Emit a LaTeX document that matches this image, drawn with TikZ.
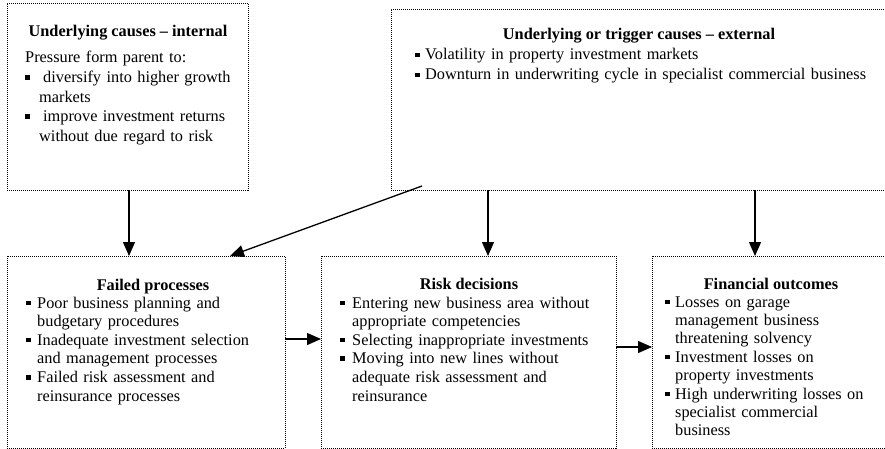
\documentclass[tikz,border=0pt]{standalone}
\usepackage{fontspec}
\setmainfont{Liberation Serif}
\usetikzlibrary{arrows.meta}

% square bullet and hanging item (each item is closed by its own \par)
\newlength\bind
\newcommand{\bsq}{\rule[2.8pt]{4.6pt}{4.6pt}}
\newcommand{\bitem}[1]{\noindent\hangindent=\bind\hangafter=1\makebox[\bind][l]{\bsq}#1\par}

\tikzset{
  box/.style={draw, line width=0.9pt, dash pattern=on 1pt off 1pt, rectangle,
    inner sep=0pt, outer sep=0pt, anchor=north west},
  ttl/.style={font=\fontsize{16.3}{18.8}\selectfont\bfseries, anchor=base, inner sep=0pt},
  body/.style={anchor=base west, inner sep=0pt, text width=#1, align=left},
  arr/.style={line width=1.3pt, -{Triangle[length=14pt,width=12pt]}},
}

\begin{document}
\begin{tikzpicture}[x=1pt,y=-1pt]
\useasboundingbox (0,0) rectangle (885,449);

% boxes
\node[box, minimum width=241pt, minimum height=187pt] (ia) at (7,3) {};
\node[box, minimum width=497pt, minimum height=181pt] (ex) at (391,9) {};
\node[box, minimum width=278pt, minimum height=192pt] (fp) at (7,256) {};
\node[box, minimum width=295pt, minimum height=192pt] (rd) at (321,256) {};
\node[box, minimum width=236pt, minimum height=192pt] (fo) at (652,256) {};

% internal causes
\node[ttl] (iat) at (128,37) {Underlying causes -- internal};
\node[body=220pt, font=\fontsize{16.3}{19.6}\selectfont] (iab) at (25,63) {\setlength\bind{14pt}%
Pressure form parent to:\par
\bitem{\hspace{4pt}diversify into higher growth\newline markets}%
\bitem{\hspace{4pt}improve investment returns\newline without due regard to risk}};

% external causes
\node[ttl] (ext) at (639,40) {Underlying or trigger causes -- external};
\node[body=460pt, font=\fontsize{16.3}{20}\selectfont] (exb) at (415,60) {\setlength\bind{10pt}%
\bitem{Volatility in property investment markets}%
\bitem{Downturn in underwriting cycle in specialist commercial business}};

% failed processes
\node[ttl] (fpt) at (153,290) {Failed processes};
\node[body=260pt, font=\fontsize{16.3}{18.6}\selectfont] (fpb) at (26,308) {\setlength\bind{11pt}%
\bitem{Poor business planning and\newline budgetary procedures}%
\bitem{Inadequate investment selection\newline and management processes}%
\bitem{Failed risk assessment and\newline reinsurance processes}};

% risk decisions
\node[ttl] (rdt) at (469,289) {Risk decisions};
\node[body=270pt, font=\fontsize{16.3}{18.6}\selectfont] (rdb) at (340,308) {\setlength\bind{12pt}%
\bitem{Entering new business area without\newline appropriate competencies}%
\bitem{Selecting inappropriate investments}%
\bitem{Moving into new lines without\newline adequate risk assessment and\newline reinsurance}};

% financial outcomes
\node[ttl] (fot) at (771,289) {Financial outcomes};
\node[body=215pt, font=\fontsize{16.3}{18.4}\selectfont] (fob) at (665,307) {\setlength\bind{10pt}%
\bitem{Losses on garage\newline management business\newline threatening solvency}%
\bitem{Investment losses on\newline property investments}%
\bitem{High underwriting losses on\newline specialist commercial\newline business}};

% connector anchors
\coordinate (c1) at (129,0);
\coordinate (c2) at (488,0);
\coordinate (c3) at (755,0);
\coordinate (ds) at (422,186);
\coordinate (de) at (230,0);
\coordinate (h1) at (0,339);
\coordinate (h2) at (0,347);

\draw[arr] (ia.south -| c1) -- (fp.north -| c1);
\draw[arr] (ds) -- (fp.north -| de);
\draw[arr] (ex.south -| c2) -- (rd.north -| c2);
\draw[arr] (ex.south -| c3) -- (fo.north -| c3);
\draw[arr] (fp.east |- h1) -- (rd.west |- h1);
\draw[arr] (rd.east |- h2) -- (fo.west |- h2);
\end{tikzpicture}
\end{document}
